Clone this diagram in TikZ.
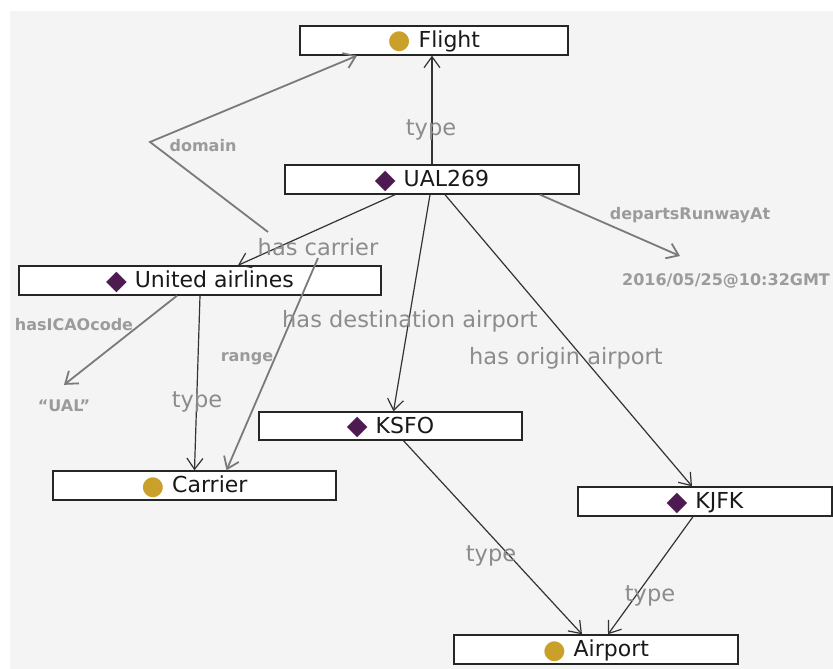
\documentclass[tikz,border=0pt]{standalone}
\usepackage{fontspec}
\setmainfont{DejaVu Sans}
\usepackage{tikz}
\usetikzlibrary{arrows.meta}
\usepackage{xcolor}

\definecolor{bggray}{HTML}{F4F4F4}
\definecolor{clsgold}{HTML}{C9A02A}
\definecolor{indpurple}{HTML}{4E1A52}
\definecolor{lblgray}{HTML}{8C8C8C}
\definecolor{edgegray}{HTML}{7A7A7A}
\newcommand{\clsdot}{\raisebox{-1.5pt}{\textcolor{clsgold}{\fontsize{26}{24}\selectfont●}}\hspace{8pt}}
\newcommand{\inddot}{\raisebox{-1.5pt}{\textcolor{indpurple}{\fontsize{27}{24}\selectfont◆}}\hspace{8pt}}

\begin{document}
\begin{tikzpicture}[x=1pt,y=-1pt,
  entity/.style={draw=black!85, line width=1.4pt, fill=white, minimum height=29pt,
    inner sep=0pt, text height=17pt, text depth=3pt, text=black!90, font=\fontsize{22}{24}\selectfont},
  biglbl/.style={text=lblgray, font=\fontsize{22.5}{24}\selectfont, inner sep=0pt},
  smalllbl/.style={text=edgegray!75, font=\fontsize{16}{18}\selectfont\bfseries, inner sep=0pt},
  dark/.style={draw=black!80, line width=1.2pt, -{Straight Barb[length=11pt,width=16pt]}},
  pale/.style={draw=edgegray, line width=1.8pt, -{Straight Barb[length=11pt,width=16pt]}}]
\useasboundingbox (0,0) rectangle (833,669);
\fill[bggray] (10,11) rectangle (833,669);

% boxes
\node[entity, minimum width=268pt] (flight) at (434,40.5) {\clsdot Flight};
\node[entity, minimum width=294pt] (ual) at (432,179.5) {\inddot UAL269};
\node[entity, minimum width=362pt] (united) at (200,280.5) {\inddot United airlines};
\node[entity, minimum width=283pt] (carrier) at (194.5,485.5) {\clsdot Carrier};
\node[entity, minimum width=263pt, minimum height=28pt] (ksfo) at (390.5,426) {\inddot KSFO};
\node[entity, minimum width=254pt] (kjfk) at (705,501.5) {\inddot KJFK};
\node[entity, minimum width=284pt] (airport) at (596,649.5) {\clsdot Airport};

% literals
\node[smalllbl] (icao) at (64,406) {“UAL”};
\node[smalllbl, anchor=west] (date) at (622,281) {2016/05/25@10:32GMT};

% free ends
\coordinate (dom-start) at (268,232);
\coordinate (dom-bend) at (150,142);
\coordinate (rng-start) at (318,258);
\coordinate (dep-end) at (680,256);

% edges
\draw[dark] (ual.north) -- (ual.north |- flight.south);
\draw[pale] (dom-start) -- (dom-bend) -- ([xshift=-77pt]flight.south);
\draw[dark] ([xshift=-37pt]ual.south) -- ([xshift=38pt]united.north);
\draw[pale] (rng-start) -- ([xshift=32pt]carrier.north);
\draw[pale] ([xshift=-23pt]united.south) -- ([yshift=15pt]icao.north);
\draw[dark] (united.south) -- (carrier.north);
\draw[dark] ([xshift=-2pt]ual.south) -- ([xshift=3pt]ksfo.north);
\draw[dark] ([xshift=13pt]ual.south) -- ([xshift=-13pt]kjfk.north);
\draw[pale] ([xshift=108pt]ual.south) -- (dep-end);
\draw[dark] ([xshift=13pt]ksfo.south) -- ([xshift=-14pt]airport.north);
\draw[dark] ([xshift=-12pt]kjfk.south) -- ([xshift=12pt]airport.north);

% labels
\node[biglbl] (l-type1) at (431,130) {type};
\node[smalllbl] (l-domain) at (203,146) {domain};
\node[biglbl] (l-carrier) at (318,247) {has carrier};
\node[smalllbl] (l-icao) at (74,325) {hasICAOcode};
\node[smalllbl] (l-range) at (247,359) {range};
\node[biglbl] (l-type2) at (197,402) {type};
\node[biglbl] (l-dest) at (410,321) {has destination airport};
\node[biglbl] (l-orig) at (566,358) {has origin airport};
\node[smalllbl] (l-dep) at (690,215) {departsRunwayAt};
\node[biglbl] (l-type3) at (491,556) {type};
\node[biglbl] (l-type4) at (650,596) {type};

\end{tikzpicture}
\end{document}
